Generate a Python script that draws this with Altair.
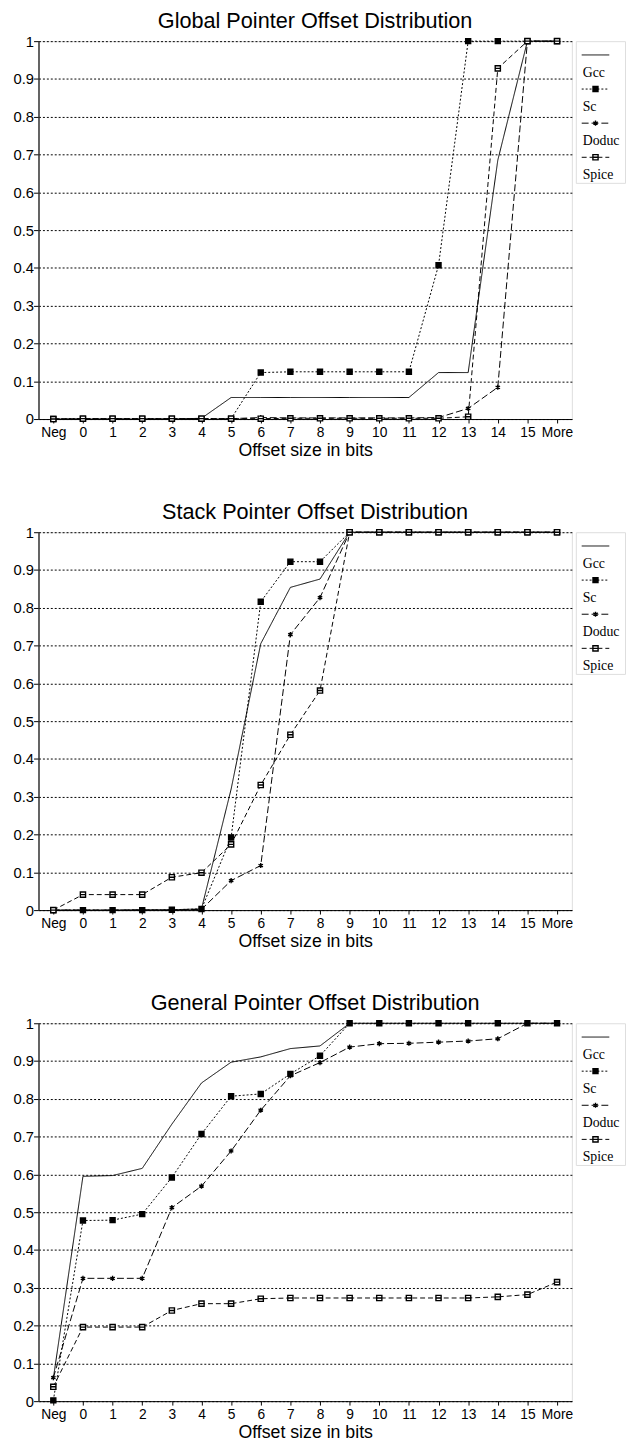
import altair as alt
import pandas as pd

CATEGORIES = ["Neg", "0", "1", "2", "3", "4", "5", "6", "7", "8", "9",
              "10", "11", "12", "13", "14", "15", "More"]
SERIES = ["Gcc", "Sc", "Doduc", "Spice"]
Y_TICKS = [0, 0.1, 0.2, 0.3, 0.4, 0.5, 0.6, 0.7, 0.8, 0.9, 1]

# Global pointer offsets
GLOBAL_GCC = [0, 0, 0, 0, 0, 0.002, 0.057, 0.057, 0.057, 0.057, 0.057, 0.057, 0.057, 0.123, 0.123, 0.685, 1, 1]
GLOBAL_SC = [0, 0.001, 0.001, 0.001, 0.001, 0.001, 0.001, 0.123, 0.125, 0.125, 0.125, 0.125, 0.125, 0.407, 1, 1, 1, 1]
GLOBAL_DODUC = [0, 0, 0, 0, 0, 0, 0.001, 0.004, 0.003, 0.003, 0.003, 0.003, 0.003, 0.004, 0.028, 0.084, 1, 1]
GLOBAL_SPICE = [0, 0.001, 0.001, 0.001, 0.001, 0.001, 0.001, 0.001, 0.002, 0.002, 0.002, 0.002, 0.002, 0.002, 0.006, 0.928, 1, 1]

# Stack pointer offsets
STACK_GCC = [0, 0, 0, 0.001, 0.001, 0.003, 0.32, 0.705, 0.854, 0.876, 1, 1, 1, 1, 1, 1, 1, 1]
STACK_SC = [0, 0, 0, 0, 0.001, 0.003, 0.192, 0.816, 0.922, 0.922, 1, 1, 1, 1, 1, 1, 1, 1]
STACK_DODUC = [0, 0, 0, 0, 0, 0.002, 0.078, 0.118, 0.729, 0.827, 1, 1, 1, 1, 1, 1, 1, 1]
STACK_SPICE = [0, 0.041, 0.041, 0.041, 0.087, 0.099, 0.174, 0.331, 0.464, 0.581, 1, 1, 1, 1, 1, 1, 1, 1]

# General pointer offsets
GENERAL_GCC = [0.06, 0.595, 0.597, 0.616, 0.733, 0.842, 0.897, 0.911, 0.933, 0.94, 1, 1, 1, 1, 1, 1, 1, 1]
GENERAL_SC = [0.002, 0.478, 0.479, 0.495, 0.592, 0.707, 0.807, 0.813, 0.866, 0.914, 1, 1, 1, 1, 1, 1, 1, 1]
GENERAL_DODUC = [0.062, 0.325, 0.325, 0.325, 0.512, 0.569, 0.662, 0.77, 0.861, 0.896, 0.937, 0.946, 0.947, 0.95, 0.953, 0.959, 1, 1]
GENERAL_SPICE = [0.038, 0.196, 0.196, 0.196, 0.24, 0.258, 0.258, 0.271, 0.273, 0.273, 0.273, 0.273, 0.273, 0.273, 0.273, 0.276, 0.282, 0.315]

SANS = "Liberation Sans"
SERIF = "Liberation Serif"

ASTERISK = "M0,-1V1M-0.87,-0.5L0.87,0.5M-0.87,0.5L0.87,-0.5"
BOXLINE = "M-1,-1H1V1H-1ZM-1,0H1"

dash_scale = alt.Scale(domain=SERIES, range=[[1, 0], [2, 2], [7, 3], [5, 3]])
shape_scale = alt.Scale(domain=SERIES, range=["circle", "square", ASTERISK, BOXLINE])
fill_scale = alt.Scale(domain=SERIES, range=["black", "black", "transparent", "white"])
size_scale = alt.Scale(domain=SERIES, range=[25, 28, 100, 46])

PLOT_W = 542
PLOT_H = 384


def long_df(by_series):
    rows = []
    for s, vals in by_series.items():
        for i, (c, v) in enumerate(zip(CATEGORIES, vals)):
            rows.append({"series": s, "cat": c, "idx": i, "value": v})
    return pd.DataFrame(rows)


def panel(title, by_series):
    df = long_df(by_series)
    base = alt.Chart(df).encode(
        x=alt.X("cat:O", sort=CATEGORIES,
                scale=alt.Scale(type="point", padding=0.5),
                axis=alt.Axis(title="Offset size in bits", labelAngle=0, grid=False,
                              ticks=True, tickSize=4, tickColor="black",
                              labelPadding=3, titlePadding=2,
                              domainColor="black", labelColor="black",
                              labelFont=SANS, labelFontSize=14,
                              titleFont=SANS, titleFontSize=18,
                              titleFontWeight="normal", titleColor="black")),
        y=alt.Y("value:Q", scale=alt.Scale(domain=[0, 1], nice=False),
                axis=alt.Axis(title=None, values=Y_TICKS, format=".1~f",
                              grid=True, gridColor="black", gridDash=[2, 2],
                              gridWidth=1, ticks=True, tickSize=5,
                              tickColor="black", domainColor="#333333",
                              domainWidth=1.5, labelPadding=0,
                              labelFont=SANS, labelFontSize=15,
                              labelColor="black")),
        order=alt.Order("idx:Q"),
    )
    lines = base.mark_line(color="black", strokeWidth=1).encode(
        strokeDash=alt.StrokeDash("series:N", scale=dash_scale, legend=None)
    )
    points = base.transform_filter("datum.series != 'Gcc'").mark_point(
        stroke="black", strokeWidth=1.4, opacity=1
    ).encode(
        shape=alt.Shape("series:N", scale=shape_scale, legend=None),
        fill=alt.Fill("series:N", scale=fill_scale, legend=None),
        size=alt.Size("series:N", scale=size_scale, legend=None),
    )
    plot = alt.layer(lines, points).properties(width=PLOT_W, height=PLOT_H)

    leg_df = pd.DataFrame({"series": SERIES})
    leg_base = alt.Chart(leg_df).encode(
        y=alt.Y("series:N", sort=SERIES,
                scale=alt.Scale(type="point", padding=0.577, align=0.575),
                axis=None)
    )
    leg_rule = leg_base.mark_rule(color="black", strokeWidth=1, yOffset=-9).encode(
        x=alt.value(6), x2=alt.value(34),
        strokeDash=alt.StrokeDash("series:N", scale=dash_scale, legend=None),
    )
    leg_pts = leg_base.transform_filter("datum.series != 'Gcc'").mark_point(
        stroke="black", strokeWidth=1.4, opacity=1, yOffset=-9
    ).encode(
        x=alt.value(20),
        shape=alt.Shape("series:N", scale=shape_scale, legend=None),
        fill=alt.Fill("series:N", scale=fill_scale, legend=None),
        size=alt.Size("series:N", scale=size_scale, legend=None),
    )
    leg_txt = leg_base.mark_text(align="left", baseline="middle", font=SERIF,
                                 fontSize=14, dy=9, color="black").encode(
        x=alt.value(7), text="series:N"
    )
    legend = alt.layer(leg_rule, leg_pts, leg_txt).properties(width=50, height=144)

    return alt.hconcat(plot, legend, spacing=4, bounds="flush").properties(
        title=alt.TitleParams(title, anchor="middle", dx=-4, fontSize=22,
                              font=SANS, fontWeight="normal", color="black",
                              offset=1)
    )


chart = alt.vconcat(
    panel("Global Pointer Offset Distribution",
          {"Gcc": GLOBAL_GCC, "Sc": GLOBAL_SC, "Doduc": GLOBAL_DODUC, "Spice": GLOBAL_SPICE}),
    panel("Stack Pointer Offset Distribution",
          {"Gcc": STACK_GCC, "Sc": STACK_SC, "Doduc": STACK_DODUC, "Spice": STACK_SPICE}),
    panel("General Pointer Offset Distribution",
          {"Gcc": GENERAL_GCC, "Sc": GENERAL_SC, "Doduc": GENERAL_DODUC, "Spice": GENERAL_SPICE}),
    spacing=41,
).properties(
    padding={"left": 4, "top": -10, "right": 0, "bottom": 0}
).configure_view(
    stroke="black", strokeWidth=1
).configure(background="white")

chart.save("out.html", embed_options={"renderer": "svg", "actions": False})
